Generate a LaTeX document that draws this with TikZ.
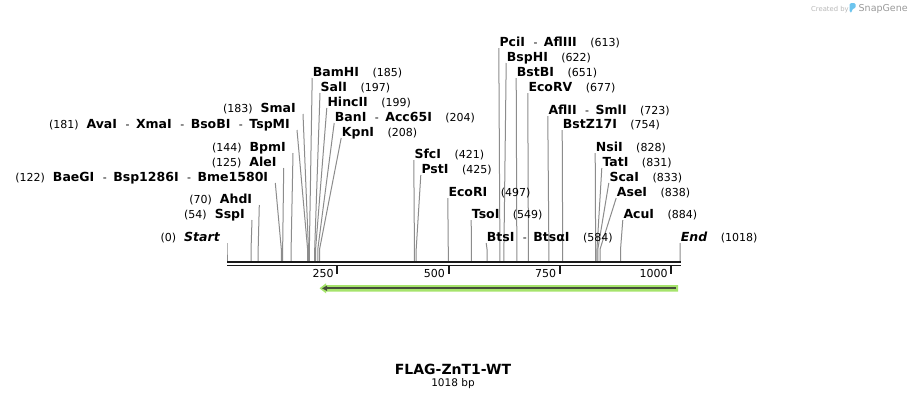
\documentclass[tikz,border=0pt]{standalone}
\usepackage{fontspec}
\setmainfont{DejaVu Sans}
\usetikzlibrary{arrows.meta}
\pgfdeclarelayer{bg}
\pgfsetlayers{bg,main}
\definecolor{sitegray}{HTML}{8C8C8C}
\definecolor{axisblack}{HTML}{1A1A1A}
\definecolor{featgreen}{HTML}{A6E46C}
\definecolor{featdark}{HTML}{454D3A}
\definecolor{credlight}{HTML}{B8B8B8}
\definecolor{creddark}{HTML}{9A9A9A}
\definecolor{logoblue}{HTML}{6CC4EE}
\newcommand\enz[1]{{\fontsize{12.5}{12.5}\selectfont\bfseries #1}}
\newcommand\enzit[1]{{\fontsize{12.5}{12.5}\selectfont\bfseries\itshape #1}}
\newcommand\pos[1]{{\fontsize{11}{11}\selectfont (#1)}}
\newcommand\sepx{{\fontsize{11}{11}\selectfont\hspace{8.5pt}-\hspace{6.5pt}}}
\newcommand\rgap{\hspace{13.5pt}}
\newcommand\lgap{\hspace{8pt}}
% right-hand label: id, bp, x of text start, baseline, text
\newcommand\rsite[5]{%
  \coordinate (s#1) at ({227+0.4452*#2},261);
  \node[lab,anchor=base west] (l#1) at (#3,#4) {#5};
  \begin{pgfonlayer}{bg}
    \draw[site] ([shift={(-0.5,2)}]l#1.base west) -- (s#1 |- bend) -- (s#1);
  \end{pgfonlayer}}
% left-hand label: id, bp, x of text end, baseline, text
\newcommand\lsite[5]{%
  \coordinate (s#1) at ({227+0.4452*#2},261);
  \node[lab,anchor=base east] (l#1) at (#3,#4) {#5};
  \begin{pgfonlayer}{bg}
    \draw[site] ([shift={(7,2)}]l#1.base east) -- (s#1 |- bend) -- (s#1);
  \end{pgfonlayer}}
\tikzset{
  lab/.style={inner sep=0pt, text=black},
  site/.style={draw=sitegray, line width=1pt},
  ticks/.style={draw=axisblack, line width=1.8pt},
  ticklab/.style={inner sep=0pt, anchor=base east, font=\fontsize{11}{11}\selectfont},
}
\begin{document}
\begin{tikzpicture}[x=1pt,y=-1pt]
\begin{pgfonlayer}{bg}
\path[use as bounding box, fill=white] (0,0) rectangle (908,400);
\end{pgfonlayer}
\coordinate (bend) at (0,249);

% left labels
\lsite{0}{0}{220}{241}{\pos{0}\lgap\enzit{Start}}
\lsite{54}{54}{245}{218}{\pos{54}\lgap\enz{SspI}}
\lsite{70}{70}{252.3}{203}{\pos{70}\lgap\enz{AhdI}}
\lsite{122}{122}{268.3}{181}{\pos{122}\lgap\enz{BaeGI}\sepx\enz{Bsp1286I}\sepx\enz{Bme1580I}}
\lsite{125}{125}{276.7}{166}{\pos{125}\lgap\enz{AleI}}
\lsite{144}{144}{286}{151}{\pos{144}\lgap\enz{BpmI}}
\lsite{181}{181}{290}{128}{\pos{181}\lgap\enz{AvaI}\sepx\enz{XmaI}\sepx\enz{BsoBI}\sepx\enz{TspMI}}
\lsite{183}{183}{296}{112}{\pos{183}\lgap\enz{SmaI}}

% right labels
\rsite{185}{185}{312.7}{76}{\enz{BamHI}\rgap\pos{185}}
\rsite{197}{197}{320.5}{91}{\enz{SalI}\rgap\pos{197}}
\rsite{199}{199}{327.3}{106}{\enz{HincII}\rgap\pos{199}}
\rsite{204}{204}{334.7}{121}{\enz{BanI}\sepx\enz{Acc65I}\rgap\pos{204}}
\rsite{208}{208}{341.7}{136}{\enz{KpnI}\rgap\pos{208}}
\rsite{421}{421}{414.3}{158}{\enz{SfcI}\rgap\pos{421}}
\rsite{425}{425}{421.3}{173}{\enz{PstI}\rgap\pos{425}}
\rsite{497}{497}{448.3}{196}{\enz{EcoRI}\rgap\pos{497}}
\rsite{549}{549}{471.7}{218}{\enz{TsoI}\rgap\pos{549}}
\rsite{584}{584}{486.7}{241}{\enz{BtsI}\sepx\enz{BtsαI}\rgap\pos{584}}
\rsite{613}{613}{499.3}{46}{\enz{PciI}\sepx\enz{AflIII}\rgap\pos{613}}
\rsite{622}{622}{506.7}{61}{\enz{BspHI}\rgap\pos{622}}
\rsite{651}{651}{516.7}{76}{\enz{BstBI}\rgap\pos{651}}
\rsite{677}{677}{528.3}{91}{\enz{EcoRV}\rgap\pos{677}}
\rsite{723}{723}{548.3}{114}{\enz{AflII}\sepx\enz{SmlI}\rgap\pos{723}}
\rsite{754}{754}{562.7}{128}{\enz{BstZ17I}\rgap\pos{754}}
\rsite{828}{828}{595.7}{151}{\enz{NsiI}\rgap\pos{828}}
\rsite{831}{831}{602.3}{166}{\enz{TatI}\rgap\pos{831}}
\rsite{833}{833}{609.3}{181}{\enz{ScaI}\rgap\pos{833}}
\rsite{838}{838}{616.7}{196}{\enz{AseI}\rgap\pos{838}}
\rsite{884}{884}{623.3}{218}{\enz{AcuI}\rgap\pos{884}}
\rsite{1018}{1018}{680.7}{241}{\enzit{End}\rgap\pos{1018}}

% axis
\coordinate (axL) at (227,262);
\coordinate (axR) at (681,262);
\draw[axisblack, line width=2.7pt] (axL) -- (axR);
\draw[axisblack, line width=1.7pt] ([yshift=-3.5pt]axL) -- ([yshift=-3.5pt]axR);
\foreach \t in {250,500,750,1000} {
  \coordinate (t\t) at ({226+0.4452*\t},266);
  \draw[ticks] (t\t) -- ++(0,8);
  \node[ticklab] (tl\t) at ([shift={(-3.5,11)}]t\t) {\t};
}

% feature arrow
\fill[featgreen] (678,285) -- (326,285) -- (326,283.3) -- (319.5,288.3) -- (326,293.3) -- (326,291.5) -- (678,291.5) -- cycle;
\draw[featdark, line width=2pt, -{Triangle[length=5pt,width=5pt]}] (676,288.3) -- (322,288.3);

% title
\node[anchor=base, inner sep=0pt] (title) at (453,374) {\fontsize{14}{14}\selectfont\bfseries FLAG-ZnT1-WT};
\node[anchor=base, inner sep=0pt] (len) at (453,386) {\fontsize{10.5}{10.5}\selectfont 1018 bp};

% credit
\node[anchor=base west, inner sep=0pt, text=credlight] (cred) at (811,11.5) {\fontsize{6.8}{7}\selectfont Created by};
\fill[logoblue, rounded corners=1.5pt] (849.5,3) -- (855.5,3) -- (855.5,8.5) -- (852.2,8.5) -- (852.2,12.5) -- (849.5,12.5) -- cycle;
\node[anchor=base west, inner sep=0pt, text=creddark] (sg) at (858.5,11.7) {\fontsize{9.5}{9.5}\selectfont SnapGene};
\end{tikzpicture}
\end{document}
